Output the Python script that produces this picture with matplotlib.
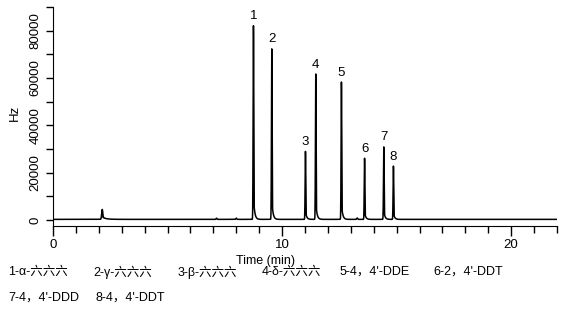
import numpy as np
import matplotlib
matplotlib.use("Agg")
import matplotlib.pyplot as plt
from matplotlib.ticker import MultipleLocator

plt.rcParams['font.family'] = ['Liberation Sans', 'Noto Sans CJK SC', 'DejaVu Sans']

# Peak table: retention time (min), peak height (Hz), label
peak_times = [8.75, 9.55, 11.02, 11.47, 12.59, 13.60, 14.44, 14.86]
peak_heights = [81800, 72000, 28700, 61400, 58000, 25800, 30600, 22500]
peak_labels = ["1", "2", "3", "4", "5", "6", "7", "8"]

# Minor features: solvent peak and small bumps
minor_times = [2.15, 7.14, 8.00, 13.28]
minor_heights = [4200, 500, 500, 600]

baseline = 300

compound_names = ["1-α-六六六", "2-γ-六六六", "3-β-六六六", "4-δ-六六六",
                  "5-4，4'-DDE", "6-2，4'-DDT", "7-4，4'-DDD", "8-4，4'-DDT"]


def tailed_peak(t, t0, h, sigma, tail):
    g = np.exp(-0.5 * ((t - t0) / sigma) ** 2)
    d = np.clip(t - t0, 0, None)
    tl = np.where(t > t0, 0.12 * np.exp(-d / tail), 0.0)
    return h * np.maximum(g, tl * (t > t0 + sigma))


t = np.arange(0, 22.0, 0.005)
signal = np.full_like(t, baseline, dtype=float)
for t0, h in zip(peak_times, peak_heights):
    signal += tailed_peak(t, t0, h, 0.014, 0.05)
for i, (t0, h) in enumerate(zip(minor_times, minor_heights)):
    if i == 0:
        signal += tailed_peak(t, t0, h, 0.025, 0.08) + h * 0.15 * np.exp(-np.clip(t - t0, 0, None) / 0.2) * (t > t0 + 0.05)
    else:
        signal += tailed_peak(t, t0, h, 0.02, 0.03)

fig = plt.figure(figsize=(5.82, 3.28), dpi=100)
ax = fig.add_axes([53 / 582, 1 - 226 / 328, (557 - 53) / 582, (226 - 7) / 328])
ax.plot(t, signal, color="black", lw=1.1)

ax.set_xlim(0, 22)
ax.set_ylim(-2500, 90000)
for s in ("top", "right"):
    ax.spines[s].set_visible(False)
ax.spines["left"].set_bounds(-2500, 90000)

ax.xaxis.set_major_locator(MultipleLocator(10))
ax.xaxis.set_minor_locator(MultipleLocator(1))
ax.yaxis.set_major_locator(MultipleLocator(20000))
ax.yaxis.set_minor_locator(MultipleLocator(10000))
ax.tick_params(axis="both", which="major", length=7, width=1, labelsize=9.5, direction="out")
ax.tick_params(axis="both", which="minor", length=5, width=1, direction="out")
ax.tick_params(axis="y", which="major", length=5)
ax.tick_params(axis="x", which="major", pad=2.5)
ax.set_yticks([0, 20000, 40000, 60000, 80000])
ax.set_yticklabels(["0", "20000", "40000", "60000", "80000"], rotation=90, va="center")

for t0, h, lab in zip(peak_times, peak_heights, peak_labels):
    ax.annotate(lab, (t0, h), xytext=(0, 3), textcoords="offset points",
                ha="center", va="bottom", fontsize=9.5)

fig.text(15 / 582, 1 - 113 / 328, "Hz", rotation=90, ha="center", va="center", fontsize=9.5)
fig.text(266 / 582, 1 - 261 / 328, "Time (min)", ha="center", va="center", fontsize=9)

legend_pos = [(8, 272), (93, 272), (178, 272), (262, 272), (340, 272), (433, 272),
              (8, 298), (96, 298)]
for name, (px, py) in zip(compound_names, legend_pos):
    fig.text(px / 582, 1 - py / 328, name, ha="left", va="center", fontsize=9)

fig.savefig("out.png", dpi=100)
